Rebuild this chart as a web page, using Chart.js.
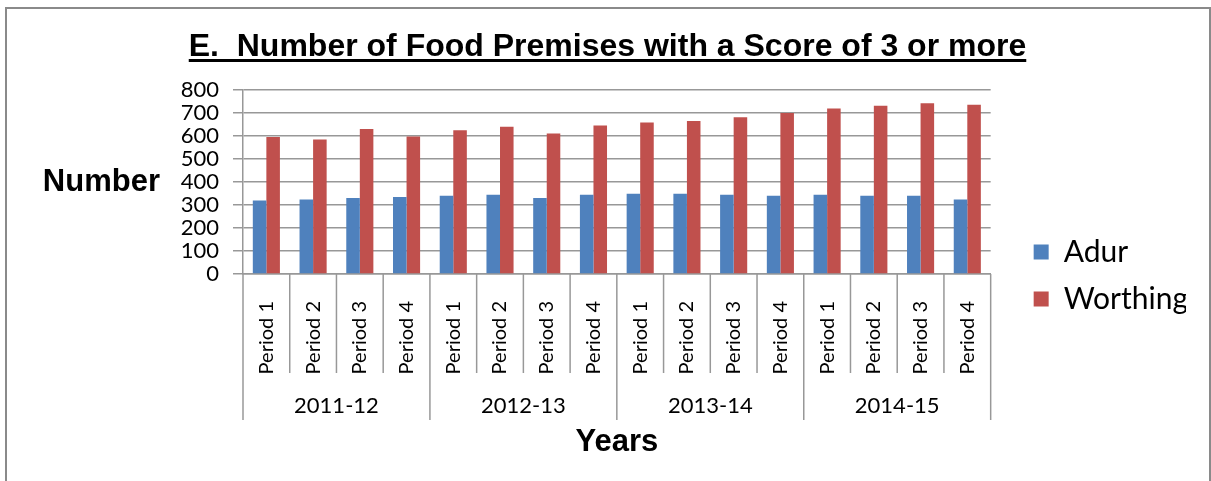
<!DOCTYPE html>
<html>
<head>
<meta charset="utf-8">
<title>Food Premises</title>
<script src="https://cdn.jsdelivr.net/npm/chart.js@4/dist/chart.umd.min.js"></script>
<style>
  html, body { margin: 0; padding: 0; background: #fff; }
  #wrap { position: relative; width: 1211px; height: 481px; overflow: hidden; }
  #frame {
    position: absolute; left: 5px; top: 7px; width: 1202px; height: 500px;
    border: 2px solid #8a8a8a; border-bottom: none;
  }
  #foodChart { position: absolute; left: 0; top: 0; }
</style>
</head>
<body>
<div id="wrap">
  <div id="frame"></div>
  <canvas id="foodChart" width="1211" height="481"></canvas>
</div>
<script>
// Chart data
const periodLabels = [
  "Period 1", "Period 2", "Period 3", "Period 4",
  "Period 1", "Period 2", "Period 3", "Period 4",
  "Period 1", "Period 2", "Period 3", "Period 4",
  "Period 1", "Period 2", "Period 3", "Period 4"
];
const yearLabels = ["2011-12", "2012-13", "2013-14", "2014-15"];
const adur = [320, 324, 330, 335, 340, 345, 330, 345, 349, 349, 345, 340, 345, 340, 340, 324];
const worthing = [596, 585, 630, 598, 625, 640, 611, 646, 659, 665, 681, 700, 720, 732, 742, 736];

const titleText = "E.  Number of Food Premises with a Score of 3 or more";
const BOLD_FONT = '"Liberation Sans", Arial, sans-serif';
const BODY_FONT = 'Lato, "Open Sans", sans-serif';
const GRID_GREY = "#989898";

// Title with underline, horizontal y title and the grouped category separators
const decorations = {
  id: "decorations",
  afterDraw(chart) {
    const { ctx, chartArea } = chart;
    const { x, x2, y } = chart.scales;
    ctx.save();

    ctx.fillStyle = "#000";
    ctx.font = "bold 32px " + BOLD_FONT;
    ctx.textAlign = "center";
    ctx.textBaseline = "alphabetic";
    const cx = chart.width / 2 + 2;
    ctx.fillText(titleText, cx, 56);
    const w = ctx.measureText(titleText).width;
    ctx.fillRect(cx - w / 2, 59, w, 3);

    ctx.font = "bold 31px " + BOLD_FONT;
    ctx.textAlign = "right";
    ctx.textBaseline = "middle";
    ctx.fillText("Number", y.left - 10, (chartArea.top + chartArea.bottom) / 2);

    ctx.strokeStyle = GRID_GREY;
    ctx.lineWidth = 1.5;
    for (let i = 0; i <= periodLabels.length; i++) {
      const px = x.getPixelForValue(i - 0.5);
      const bottom = i % 4 === 0 ? x2.top + 47 : x.bottom;
      ctx.beginPath();
      ctx.moveTo(px, x.top);
      ctx.lineTo(px, bottom);
      ctx.stroke();
    }
    ctx.restore();
  }
};

function initChart() {
  const ctx = document.getElementById("foodChart").getContext("2d");

  new Chart(ctx, {
    type: "bar",
    data: {
      labels: periodLabels,
      datasets: [
        { label: "Adur", data: adur, backgroundColor: "#4f81bd" },
        { label: "Worthing", data: worthing, backgroundColor: "#c0504d" }
      ]
    },
    options: {
      responsive: false,
      animation: false,
      datasets: {
        bar: { categoryPercentage: 0.58, barPercentage: 1.0 }
      },
      layout: {
        padding: { top: 90, left: 170, right: 25, bottom: 20 }
      },
      plugins: {
        title: { display: false },
        tooltip: { enabled: false },
        legend: {
          position: "right",
          align: "center",
          labels: {
            boxWidth: 15,
            boxHeight: 15,
            padding: 17,
            color: "#000",
            font: { family: BODY_FONT, size: 30 }
          }
        }
      },
      scales: {
        x: {
          type: "category",
          position: "bottom",
          offset: true,
          grid: { display: false },
          border: { display: true, color: GRID_GREY, width: 1.5 },
          ticks: {
            autoSkip: false,
            minRotation: 90,
            maxRotation: 90,
            padding: 19,
            color: "#000",
            font: { family: BODY_FONT, size: 20 }
          },
          afterFit(scale) { scale.height = 99; }
        },
        x2: {
          type: "category",
          position: "bottom",
          labels: yearLabels,
          offset: true,
          grid: { display: false },
          border: { display: false },
          ticks: {
            padding: 12,
            maxRotation: 0,
            color: "#000",
            font: { family: BODY_FONT, size: 22 }
          },
          title: {
            display: true,
            text: "Years",
            color: "#000",
            padding: 0,
            font: { family: BOLD_FONT, size: 31, weight: "bold" }
          },
          afterFit(scale) { scale.height = 88; }
        },
        y: {
          min: 0,
          max: 800,
          ticks: {
            stepSize: 100,
            autoSkip: false,
            padding: 14,
            color: "#000",
            font: { family: BODY_FONT, size: 22 }
          },
          grid: { color: GRID_GREY, lineWidth: 1.5, tickLength: 10 },
          border: { color: GRID_GREY, width: 1.5 },
          afterFit(scale) { scale.width = 73; }
        },
        // empty right-hand axis that keeps a gap between the plot and the legend
        gap: {
          type: "linear",
          position: "right",
          grid: { display: false },
          border: { display: false },
          ticks: { display: false },
          afterFit(scale) { scale.width = 26; }
        }
      }
    },
    plugins: [decorations]
  });
}

initChart();
</script>
</body>
</html>
